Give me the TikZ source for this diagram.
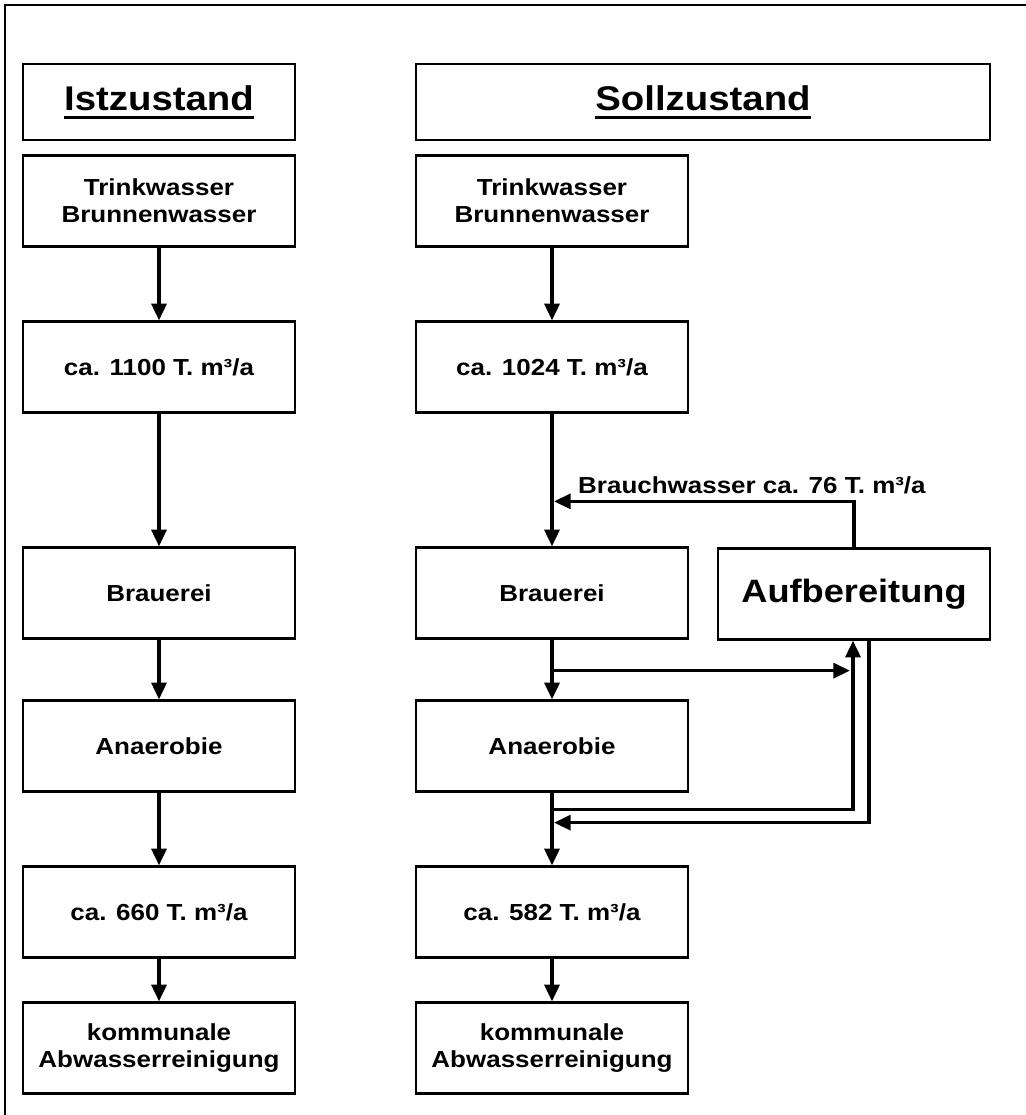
\documentclass[tikz,border=0pt]{standalone}
\usepackage{fontspec}
\setmainfont{Liberation Sans}[FakeStretch=1.12]
\usetikzlibrary{arrows.meta,positioning,calc}
\newcommand{\hdline}[1]{\setbox0\hbox{#1}\rlap{\rule[-4.8pt]{\wd0}{1.7pt}}\box0}

\begin{document}
\begin{tikzpicture}[x=0.02cm,y=-0.02cm,>={Triangle[length=9.5pt,width=8.5pt]},
	box/.style={draw,line width=1.3pt,minimum width=5.44cm,minimum height=1.82cm,align=center,inner sep=2pt,font=\fontsize{13.2}{15.5}\selectfont\bfseries},
	hdr/.style={box,minimum height=1.52cm,font=\fontsize{19.5}{22}\selectfont\bfseries},
	flow/.style={->,line width=1.9pt}]
			\useasboundingbox (0,0) rectangle (1026,1115);
			\draw[line width=1.5pt] (5,1115) -- (5,5) -- (1026,5);
			% Istzustand
			\node[hdr] (ist) at (159,102) {\hdline{Istzustand}};
			\node[box] (trinkL) at (159,201) {Trinkwasser\\Brunnenwasser};
			\node[box] (caL) at (159,367) {ca. 1100 T. m³/a};
			\node[box] (brauL) at (159,593) {Brauerei};
			\node[box] (anaL) at (159,746) {Anaerobie};
			\node[box] (abL) at (159,912) {ca. 660 T. m³/a};
			\node[box] (kommL) at (159,1048) {kommunale\\Abwasserreinigung};
			\draw[flow] (trinkL.south) -- (caL.north);
			\draw[flow] (caL.south) -- (brauL.north);
			\draw[flow] (brauL.south) -- (anaL.north);
			\draw[flow] (anaL.south) -- (abL.north);
			\draw[flow] (abL.south) -- (kommL.north);
			% Sollzustand
			\node[hdr,minimum width=11.48cm] (soll) at (703,102) {\hdline{Sollzustand}};
			\node[box] (trinkR) at (552,201) {Trinkwasser\\Brunnenwasser};
			\node[box] (caR) at (552,367) {ca. 1024 T. m³/a};
			\node[box] (brauR) at (552,593) {Brauerei};
			\node[box] (anaR) at (552,746) {Anaerobie};
			\node[box] (abR) at (552,912) {ca. 582 T. m³/a};
			\node[box] (kommR) at (552,1048) {kommunale\\Abwasserreinigung};
			\node[box,font=\fontsize{18.4}{21}\selectfont\bfseries] (aufb) at (854,594) {Aufbereitung};
			\draw[flow] (trinkR.south) -- (caR.north);
			\draw[flow] (caR.south) -- (brauR.north);
			\draw[flow] (brauR.south) -- (anaR.north);
			\draw[flow] (anaR.south) -- (abR.north);
			\draw[flow] (abR.south) -- (kommR.north);
			% Kreislauf ueber die Aufbereitung
			\coordinate (bw) at ($(brauR.north)+(2,-45)$);
			\coordinate (ab1) at ($(brauR.south)+(0,31)$);
			\coordinate (ab2) at ($(anaR.south)+(0,17)$);
			\coordinate (rl) at ($(anaR.south)+(2,30)$);
			\draw[flow] (aufb.north) |- (bw);
			\node[anchor=base west,font=\fontsize{13.2}{15.5}\selectfont\bfseries] (bwtext) at (572,493) {Brauchwasser ca. 76 T. m³/a};
			\draw[flow] (ab1) -- ($(ab1 -| aufb.south)+(-4,0)$);
			\draw[flow] (ab2) -| ($(aufb.south)+(-1,0)$);
			\draw[flow] ($(aufb.south)+(15,0)$) |- (rl);
\end{tikzpicture}
\end{document}
